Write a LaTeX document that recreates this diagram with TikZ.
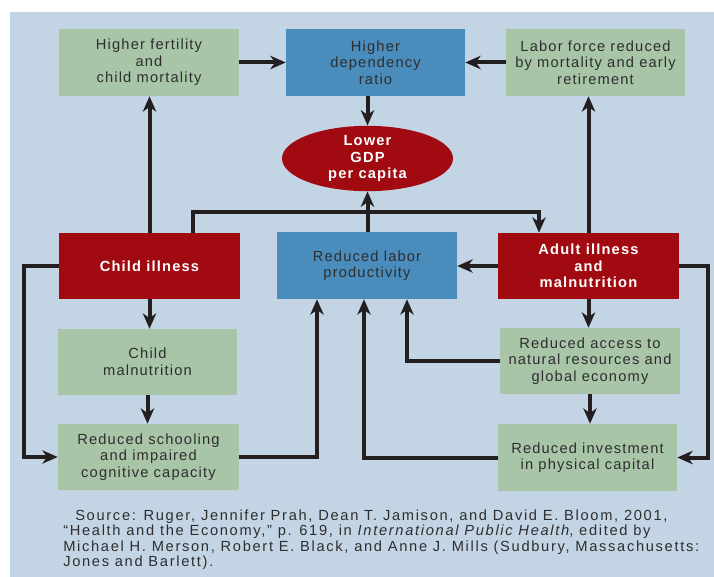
\documentclass[tikz,border=0pt]{standalone}
\usepackage{fontspec}
\setmainfont{Liberation Sans}[LetterSpace=8]
\newfontfamily\srcfont{Liberation Sans}[LetterSpace=11.5]
\usetikzlibrary{arrows.meta,shapes.geometric}
\definecolor{bgblue}{HTML}{C3D5E5}
\definecolor{boxgreen}{HTML}{A8C5A8}
\definecolor{boxblue}{HTML}{4A8CBB}
\definecolor{boxred}{HTML}{A00A10}
\definecolor{ink}{HTML}{231F20}
\definecolor{txt}{HTML}{2E2E2E}
\tikzset{
  box/.style={rectangle, inner sep=2pt, align=center, font=\fontsize{11}{12.4}\selectfont, text=txt},
  gbox/.style={box, fill=boxgreen},
  bbox/.style={box, fill=boxblue},
  rbox/.style={box, fill=boxred, text=white, font=\fontsize{11}{12.4}\selectfont\bfseries},
  arr/.style={draw=ink, line width=3pt, -{Stealth[length=11.5pt,width=10pt,inset=3.5pt]}},
}
\begin{document}
\begin{tikzpicture}[x=0.75pt,y=-0.75pt]
\useasboundingbox (0,0) rectangle (714,577);
\fill[bgblue] (10,12) rectangle (714,577);
% nodes
\node[gbox, minimum width=180*0.75pt, minimum height=67*0.75pt] (fert) at (149,62.5) {Higher fertility\\and\\child mortality};
\node[bbox, minimum width=179*0.75pt, minimum height=67*0.75pt] (dep) at (375.5,62.5) {Higher\\dependency\\ratio};
\node[gbox, minimum width=179*0.75pt, minimum height=67*0.75pt] (labor) at (595.5,62.5) {Labor force reduced\\by mortality and early\\retirement};
\node[ellipse, fill=boxred, text=white, inner sep=0pt, align=center, font=\fontsize{11}{12.4}\selectfont\bfseries, minimum width=171*0.75pt, minimum height=65*0.75pt] (gdp) at (367.5,158.5) {Lower\\GDP\\per capita};
\node[rbox, minimum width=181*0.75pt, minimum height=66*0.75pt] (child) at (149.5,266) {Child illness};
\node[bbox, minimum width=180*0.75pt, minimum height=67*0.75pt] (prod) at (367,265.5) {Reduced labor\\productivity};
\node[rbox, minimum width=181*0.75pt, minimum height=66*0.75pt] (adult) at (588.5,266) {Adult illness\\and\\malnutrition};
\node[gbox, minimum width=179*0.75pt, minimum height=66*0.75pt] (cmal) at (147.5,362) {Child\\malnutrition};
\node[gbox, minimum width=181*0.75pt, minimum height=66*0.75pt] (school) at (148.5,457) {Reduced schooling\\and impaired\\cognitive capacity};
\node[gbox, minimum width=180*0.75pt, minimum height=66*0.75pt] (access) at (590,361) {Reduced access to\\natural resources and\\global economy};
\node[gbox, minimum width=179*0.75pt, minimum height=67*0.75pt] (invest) at (587.5,457.5) {Reduced investment\\in physical capital};
% helper coordinates
\coordinate (k1) at (193,212);
\coordinate (k2) at (539,212);
\coordinate (L) at (24,0);
\coordinate (R) at (708,0);
\coordinate (p1) at (317,0);
\coordinate (p2) at (407,0);
\coordinate (p3) at (364,0);
% connectors
\draw[arr] (fert.east) -- (dep.west);
\draw[arr] (labor.west) -- (dep.east);
\draw[arr] (gdp.north |- dep.south) -- (gdp.north);
\draw[arr] (gdp.south |- prod.north) -- (gdp.south);
\draw[arr] (child.north) -- (child.north |- fert.south);
\draw[arr] (adult.north) -- (adult.north |- labor.south);
\draw[arr] (k1 |- child.north) -- (k1) -- (k2) -- (k2 |- adult.north);
\draw[arr] (adult.west) -- (adult.west -| prod.east);
\draw[arr] (child.west) -- (child.west -| L) |- (school.west);
\draw[arr] (child.south) -- (child.south |- cmal.north);
\draw[arr] (cmal.south) -- (cmal.south |- school.north);
\draw[arr] (school.east) -| (p1 |- prod.south);
\draw[arr] (adult.south) -- (adult.south |- access.north);
\draw[arr] (access.south) -- (access.south |- invest.north);
\draw[arr] (access.west) -| (p2 |- prod.south);
\draw[arr] (invest.west) -| (p3 |- prod.south);
\draw[arr] (adult.east) -- (adult.east -| R) |- (invest.east);
% source
\node[anchor=north west, align=left, inner sep=0pt, text=txt, font=\srcfont\fontsize{11}{11.5}\selectfont] (src) at (63,509.5)
{\hspace*{9pt}Source: Ruger, Jennifer Prah, Dean T. Jamison, and David E. Bloom, 2001,\\
“Health and the Economy,” p. 619, in \textit{International Public Health}, edited by\\
Michael H. Merson, Robert E. Black, and Anne J. Mills (Sudbury, Massachusetts:\\
Jones and Barlett).};
\end{tikzpicture}
\end{document}
